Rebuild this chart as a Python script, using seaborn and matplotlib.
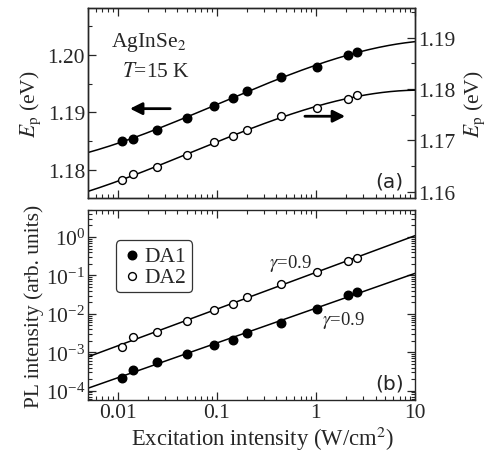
import numpy as np
import pandas as pd
import matplotlib
matplotlib.use("Agg")
import matplotlib.pyplot as plt
import seaborn as sns
from matplotlib.ticker import LogLocator, FixedLocator, NullFormatter, MultipleLocator, FuncFormatter

# ---------------- data ----------------
exc = [0.011, 0.0142, 0.0248, 0.0497, 0.0934, 0.145, 0.20, 0.44, 1.02, 2.1, 2.6]
ep_da1 = [1.1851, 1.1853, 1.1870, 1.1891, 1.1912, 1.1926, 1.1938, 1.1961, 1.1979, 1.2000, 1.2006]
ep_da2 = [1.1622, 1.1634, 1.1649, 1.1671, 1.1696, 1.1708, 1.1721, 1.1747, 1.1764, 1.1780, 1.1788]
pl_da1 = [2.2e-4, 3.5e-4, 5.6e-4, 9.1e-4, 1.56e-3, 2.1e-3, 3.2e-3, 5.9e-3, 0.0135, 0.031, 0.037]
pl_da2 = [1.35e-3, 2.5e-3, 3.4e-3, 6.6e-3, 0.0127, 0.018, 0.0275, 0.060, 0.123, 0.24, 0.28]
series = ["DA1", "DA2"]
gamma_label = "$\\gamma$=0.9"

# ---------------- style ----------------
sns.set_style("ticks")
plt.rcParams["font.family"] = ["Liberation Serif", "DejaVu Serif"]
plt.rcParams["mathtext.fontset"] = "stix"
plt.rcParams["xtick.direction"] = "in"
plt.rcParams["ytick.direction"] = "in"
FS = 15.5

fig = plt.figure(figsize=(4.94, 4.56), dpi=100)
axa = fig.add_axes([0.178, 0.564, 0.662, 0.416])
axb = fig.add_axes([0.178, 0.121, 0.662, 0.416])

df = pd.DataFrame({"x": exc, "ep1": ep_da1, "ep2": ep_da2, "pl1": pl_da1, "pl2": pl_da2})
lx = np.log10(df["x"])
xfit = np.logspace(np.log10(0.005), 1, 200)
lxf = np.log10(xfit)

MS_F, MS_O = 38, 32

# ---------------- panel (a) ----------------
axa2 = axa.twinx()
c1 = np.polyfit(lx, df["ep1"], 3)
c2 = np.polyfit(lx, df["ep2"], 3)
sns.lineplot(x=xfit, y=np.polyval(c1, lxf), ax=axa, color="black", lw=1.1)
sns.lineplot(x=xfit, y=np.polyval(c2, lxf), ax=axa2, color="black", lw=1.1)
sns.scatterplot(x="x", y="ep1", data=df, ax=axa, color="black", edgecolor="black",
                s=MS_F, linewidth=1, zorder=5)
sns.scatterplot(x="x", y="ep2", data=df, ax=axa2, color="white", edgecolor="black",
                s=MS_O, linewidth=1, zorder=5)
for a in (axa, axa2):
    a.set_xscale("log")
    a.set_xlim(0.005, 10)
axa.set_ylim(1.1751, 1.2082)
axa2.set_ylim(1.1588, 1.1958)
axa.yaxis.set_major_locator(MultipleLocator(0.01))
axa.yaxis.set_minor_locator(MultipleLocator(0.005))
axa2.yaxis.set_major_locator(MultipleLocator(0.01))
axa2.yaxis.set_minor_locator(MultipleLocator(0.005))
axa.yaxis.set_major_formatter(FuncFormatter(lambda v, p: f"{v:.2f}"))
axa2.yaxis.set_major_formatter(FuncFormatter(lambda v, p: f"{v:.2f}"))
axa.set_ylabel("$E_\\mathrm{p}$ (eV)", fontsize=FS, labelpad=3)
axa2.set_ylabel("$E_\\mathrm{p}$ (eV)", fontsize=FS, rotation=90, labelpad=5)
axa.set_xlabel("")
axa.tick_params(axis="x", which="both", top=True, labelbottom=False)
axa.tick_params(axis="both", which="major", length=6, width=0.9, labelsize=FS, pad=2)
axa.tick_params(axis="both", which="minor", length=3, width=0.8)
axa2.tick_params(axis="y", which="major", length=6, width=0.9, labelsize=FS, direction="in", pad=2)
axa2.tick_params(axis="y", which="minor", length=3, width=0.8, direction="in")
axa.text(0.07, 0.80, "AgInSe$_2$", transform=axa.transAxes, fontsize=FS)
axa.text(0.105, 0.64, "$T$=15 K", transform=axa.transAxes, fontsize=FS)
axa.annotate("", xy=(0.12, 0.47), xytext=(0.26, 0.47), xycoords="axes fraction",
             arrowprops=dict(arrowstyle="-|>", color="black", lw=2, mutation_scale=18))
axa2.annotate("", xy=(0.795, 0.43), xytext=(0.655, 0.43), xycoords="axes fraction",
              arrowprops=dict(arrowstyle="-|>", color="black", lw=2, mutation_scale=18))
axa.text(0.965, 0.06, "(a)", transform=axa.transAxes, fontsize=FS - 1, ha="right",
         family="DejaVu Sans")

# ---------------- panel (b) ----------------
d1 = np.polyfit(lx, np.log10(df["pl1"]), 1)
d2 = np.polyfit(lx, np.log10(df["pl2"]), 1)
sns.lineplot(x=xfit, y=10 ** np.polyval(d1, lxf), ax=axb, color="black", lw=1.1)
sns.lineplot(x=xfit, y=10 ** np.polyval(d2, lxf), ax=axb, color="black", lw=1.1)
sns.scatterplot(x="x", y="pl1", data=df, ax=axb, color="black", edgecolor="black",
                s=MS_F, linewidth=1, zorder=5, label=series[0])
sns.scatterplot(x="x", y="pl2", data=df, ax=axb, color="white", edgecolor="black",
                s=MS_O, linewidth=1, zorder=5, label=series[1])
axb.set_xscale("log")
axb.set_yscale("log")
axb.set_xlim(0.005, 10)
axb.set_ylim(5.8e-5, 5)
axb.xaxis.set_major_locator(FixedLocator([0.01, 0.1, 1, 10]))
axb.xaxis.set_major_formatter(FuncFormatter(lambda v, p: f"{v:g}"))
axb.xaxis.set_minor_locator(LogLocator(base=10, subs=np.arange(2, 10), numticks=20))
axb.xaxis.set_minor_formatter(NullFormatter())
axb.yaxis.set_major_locator(LogLocator(base=10, numticks=20))
axb.yaxis.set_minor_locator(LogLocator(base=10, subs=np.arange(2, 10), numticks=20))
axb.yaxis.set_minor_formatter(NullFormatter())
axb.tick_params(axis="both", which="both", top=True, right=True)
axb.tick_params(axis="both", which="major", length=6, width=0.9, labelsize=FS, pad=2)
axb.tick_params(axis="both", which="minor", length=3, width=0.8)
axb.set_xlabel("Excitation intensity (W/cm$^2$)", fontsize=FS + 0.8)
axb.xaxis.set_label_coords(0.532, -0.125)
axb.set_ylabel("PL intensity (arb. units)", fontsize=FS, labelpad=1)
leg = axb.legend(loc="upper left", bbox_to_anchor=(0.085, 0.84), fontsize=FS,
                 frameon=True, fancybox=True, edgecolor="black", handletextpad=0.1,
                 borderpad=0.25, labelspacing=0.05, handlelength=1.0, borderaxespad=0)
leg.get_frame().set_linewidth(0.9)
axb.text(0.555, 0.70, gamma_label, transform=axb.transAxes, fontsize=FS - 2)
axb.text(0.715, 0.40, gamma_label, transform=axb.transAxes, fontsize=FS - 2)
axb.text(0.965, 0.06, "(b)", transform=axb.transAxes, fontsize=FS - 1, ha="right",
         family="DejaVu Sans")

for a in (axa, axa2, axb):
    for s in a.spines.values():
        s.set_linewidth(1.0)
        s.set_visible(True)

fig.savefig("out.png", dpi=100)
